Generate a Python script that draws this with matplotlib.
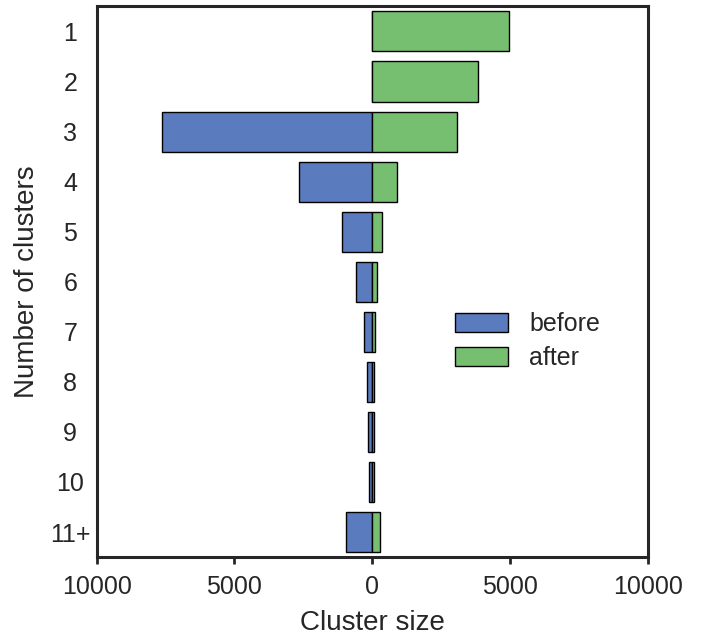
import matplotlib
matplotlib.use("Agg")
import matplotlib.pyplot as plt
from matplotlib.patches import Patch

plt.rcParams['font.family'] = ['Liberation Sans', 'DejaVu Sans']

groups = ['1', '2', '3', '4', '5', '6', '7', '8', '9', '10', '11+']
before = [0, 0, 7630, 2670, 1110, 590, 300, 195, 160, 130, 950]
after = [4970, 3850, 3060, 900, 360, 180, 110, 80, 60, 50, 275]

blue = '#5a7bbe'
green = '#76bf70'
dark = '#262626'

fig = plt.figure(figsize=(7.03, 6.41), dpi=100)
ax = fig.add_axes([0.1375, 0.131, 0.784, 0.859])

pos = list(range(len(groups)))
ax.barh(pos, [-b for b in before], height=0.8, color=blue, edgecolor='black', linewidth=1.0)
ax.barh(pos, after, height=0.8, color=green, edgecolor='black', linewidth=1.0)

ax.set_xlim(-10000, 10000)
ax.set_ylim(len(groups) - 0.5, -0.5)
ax.set_yticks(pos)
ax.set_yticklabels(groups, ha='center')
ax.set_xticks([-10000, -5000, 0, 5000, 10000])
ax.set_xticklabels(['10000', '5000', '0', '5000', '10000'])

ax.tick_params(axis='y', length=0, pad=19, labelsize=18, labelcolor=dark)
ax.tick_params(axis='x', length=5, width=2, color=dark, pad=8, labelsize=18, labelcolor=dark)
for s in ax.spines.values():
    s.set_linewidth(2.2)
    s.set_color(dark)

ax.set_xlabel('Cluster size', fontsize=20, color=dark, labelpad=8)
ax.set_ylabel('Number of clusters', fontsize=20, color=dark)
ax.yaxis.set_label_coords(-0.103, 0.5)

handles = [Patch(facecolor=blue, edgecolor='black', linewidth=1.0, label='before'),
           Patch(facecolor=green, edgecolor='black', linewidth=1.0, label='after')]
leg = ax.legend(handles=handles, loc='center left', bbox_to_anchor=(0.628, 0.392),
                frameon=False, fontsize=18, borderpad=0, handlelength=2.1,
                handleheight=0.8, handletextpad=0.85, labelspacing=0.4)
for t in leg.get_texts():
    t.set_color(dark)

fig.savefig('out.png', dpi=100)
